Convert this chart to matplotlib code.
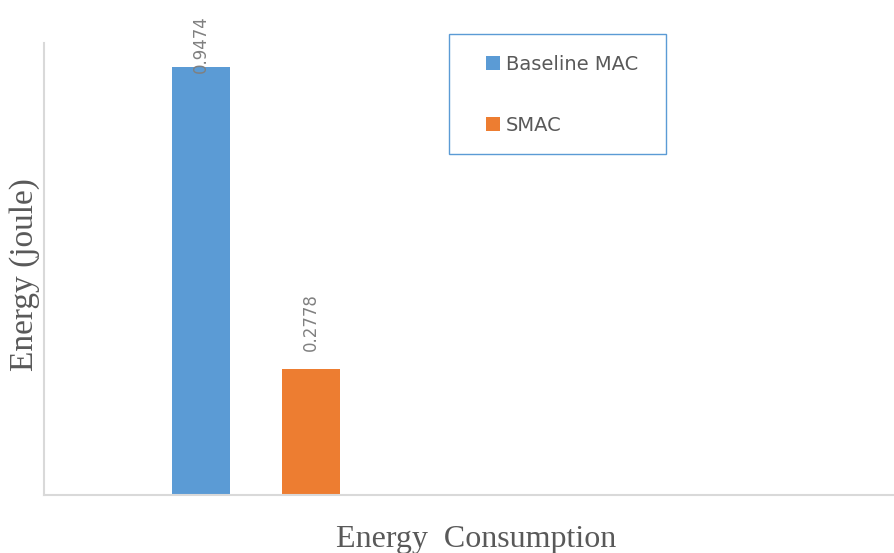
import matplotlib.pyplot as plt
from matplotlib.patches import Rectangle

# Energy consumed by each MAC scheme
schemes = ['Baseline MAC', 'SMAC']
energy = [0.9474, 0.2778]
colors = ['#5b9bd5', '#ed7d31']

fig = plt.figure(figsize=(8.95, 5.53), dpi=100)
ax = fig.add_axes([44 / 895, 58 / 553, 849 / 895, 452 / 553])

x = range(len(schemes))
bars = ax.bar(x, energy, width=0.527, color=colors, label=schemes)

# value labels, the tall one is pushed down into the bar by the top margin
offsets = [-6, 18]
for rect, val, off in zip(bars, energy, offsets):
    ax.annotate(f'{val:.4f}', (rect.get_x() + rect.get_width() / 2, val),
                xytext=(0, off), textcoords='offset pixels',
                rotation=90, ha='center', va='bottom',
                fontsize=12, color='#808080', annotation_clip=False)

ax.set_xlim(-1.427, 6.29)
ax.set_ylim(0, 1.0)
ax.set_xticks([])
ax.set_yticks([])
for side in ['top', 'right']:
    ax.spines[side].set_visible(False)
for side in ['left', 'bottom']:
    ax.spines[side].set_color('#d9d9d9')
    ax.spines[side].set_linewidth(1.5)

# legend inside a thin blue box
leg = fig.legend(handles=bars.patches, labels=schemes, loc='upper left',
                 bbox_to_anchor=(486 / 895, 1 - 55 / 553), frameon=False,
                 fontsize=14, handlelength=0.72, handleheight=0.72,
                 handletextpad=0.3, labelspacing=2.17, borderpad=0,
                 borderaxespad=0, labelcolor='#595959')
fig.add_artist(Rectangle((449 / 895, 1 - 154 / 553), 217 / 895, 120 / 553,
                         transform=fig.transFigure, fill=False,
                         edgecolor='#5b9bd5', linewidth=1))

fig.text(476 / 895, 1 - 547 / 553, 'Energy  Consumption', family='Liberation Serif',
         fontsize=23, color='#595959', ha='center', va='baseline')
fig.text(25 / 895, 1 - 275 / 553, 'Energy (joule)', family='Liberation Serif',
         fontsize=24, color='#595959', ha='center', va='center', rotation=90)

fig.savefig('out.png', dpi=100)
